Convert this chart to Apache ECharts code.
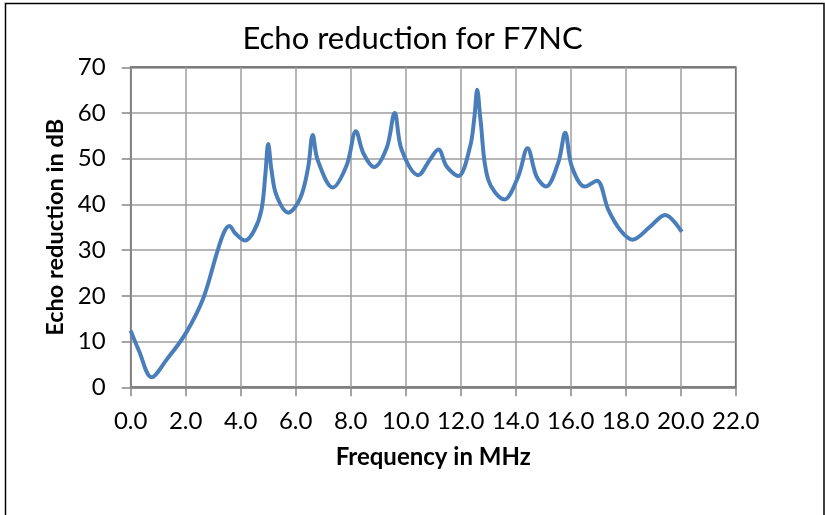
<!DOCTYPE html>
<html>
<head>
<meta charset="utf-8">
<script src="https://cdn.jsdelivr.net/npm/echarts@6/dist/echarts.min.js"></script>
<style>
  html, body { margin: 0; padding: 0; background: #fff; }
  #chart { width: 825px; height: 515px; }
</style>
</head>
<body>
<div id="chart"></div>
<script>
// frequency in MHz and echo reduction in dB
const freq = [0, 0.3, 0.76, 1.3, 2.0, 2.64, 3.13, 3.4, 3.59, 3.8, 4.16, 4.5, 4.76, 4.9, 5.0, 5.12, 5.3, 5.73,
  6.16, 6.45, 6.62, 6.8, 7.35, 7.85, 8.19, 8.46, 8.85, 9.31, 9.6, 9.85, 10.46, 10.88, 11.19, 11.49, 11.91,
  12.34, 12.5, 12.6, 12.72, 13.0, 13.59, 14.09, 14.43, 14.76, 15.1, 15.55, 15.8, 16.04, 16.52, 16.95,
  17.37, 17.8, 18.24, 18.88, 19.43, 20.04];
const echoDb = [12.4, 8.0, 2.2, 6.0, 11.8, 19.5, 29.3, 34.0, 35.3, 33.7, 32.1, 34.4, 39.0, 46.8, 53.2, 47.5, 42.0, 38.2,
  41.3, 48.0, 55.2, 49.7, 43.7, 48.5, 56.0, 51.2, 48.2, 52.4, 60.0, 52.0, 46.4, 49.8, 52.0, 48.3, 46.2,
  52.6, 59.2, 65.1, 58.5, 45.4, 41.1, 46.1, 52.3, 46.1, 43.9, 49.2, 55.7, 48.3, 43.9, 45.2,
  38.8, 34.4, 32.3, 35.1, 37.7, 34.0];

const titleText = "Echo reduction for F7NC";
const xName = "Frequency in MHz";
const yName = "Echo reduction in dB";

const font = "Lato, 'Open Sans', sans-serif";
const chart = echarts.init(document.getElementById("chart"));

const option = {
  animation: false,
  backgroundColor: "#fff",
  title: {
    text: titleText,
    left: "center",
    top: 18,
    textStyle: { fontFamily: font, fontSize: 31, fontWeight: "normal", color: "#000" }
  },
  graphic: [{
    type: "rect",
    shape: { x: 5.5, y: 3.5, width: 818.5, height: 530 },
    style: { fill: "none", stroke: "#000", lineWidth: 1.5 },
    z: -1
  }],
  grid: {
    left: 130.7, right: 89.3, top: 67.3, bottom: 127.7,
    show: true, borderColor: "#000", borderWidth: 1.5, backgroundColor: "transparent"
  },
  xAxis: {
    type: "value",
    min: 0, max: 22, interval: 2,
    name: xName,
    nameLocation: "middle",
    nameGap: 58,
    nameTextStyle: { fontFamily: font, fontSize: 24, fontWeight: "bold", color: "#000" },
    axisLine: { show: true, onZero: false, lineStyle: { color: "#868686", width: 1.5 } },
    axisTick: { show: true, length: 9, lineStyle: { color: "#868686", width: 1.5 } },
    axisLabel: { fontFamily: font, fontSize: 24, color: "#000", margin: 22,
      formatter: v => v.toFixed(1) },
    splitLine: { show: true, lineStyle: { color: "#9e9e9e", width: 1.5 } }
  },
  yAxis: {
    type: "value",
    min: 0, max: 70, interval: 10,
    name: yName,
    nameLocation: "middle",
    nameGap: 62,
    nameTextStyle: { fontFamily: font, fontSize: 23.5, fontWeight: "bold", color: "#000" },
    axisLine: { show: true, lineStyle: { color: "#868686", width: 1.5 } },
    axisTick: { show: true, length: 9, lineStyle: { color: "#868686", width: 1.5 } },
    axisLabel: { fontFamily: font, fontSize: 24, color: "#000", margin: 25 },
    splitLine: { show: true, lineStyle: { color: "#9e9e9e", width: 1.5 } }
  },
  series: [{
    type: "line",
    data: freq.map((f, i) => [f, echoDb[i]]),
    smooth: 0.35,
    showSymbol: false,
    lineStyle: { color: "#4a7ebb", width: 4 }
  }]
};
chart.setOption(option);
</script>
</body>
</html>
